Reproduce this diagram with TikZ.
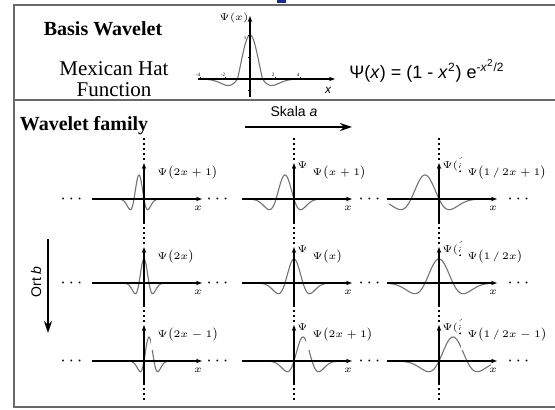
\documentclass[tikz,border=0pt]{standalone}
\usepackage{fontspec}
\setmainfont{Liberation Serif}
\newfontfamily\arialfont{Liberation Sans}
\usepackage{amsmath}
\usetikzlibrary{arrows.meta}

\definecolor{framegray}{RGB}{105,105,105}
\definecolor{titleblue}{RGB}{25,45,130}

\tikzset{
  axis/.style={line width=0.55pt,-{Stealth[length=3pt,width=2.2pt]}},
  wave/.style={black!55,line width=0.55pt,smooth},
  vdots/.style={line width=1pt,dash pattern=on 1pt off 1.5pt},
  plotlabel/.style={fill=white,inner ysep=4pt,inner xsep=3pt,anchor=west,font=\fontsize{5.5}{6.5}\selectfont},
  ylab/.style={inner sep=0pt,anchor=west,font=\fontsize{3.5}{4}\selectfont},
  xlab/.style={inner sep=0pt,font=\fontsize{4.5}{5}\selectfont},
  ticklab/.style={inner sep=0pt,font=\fontsize{2.5}{3}\selectfont},
  ellip/.style={inner sep=0pt,font=\fontsize{9}{10}\selectfont},
  bigarrow/.style={line width=0.8pt,-{Stealth[length=6pt,width=4pt]}},
}

\begin{document}
\begin{tikzpicture}[x=0.5pt,y=0.5pt,
  declare function={mh(\t)=(1-\t*\t)*exp(-\t*\t/2);}]
\useasboundingbox (0,0) rectangle (555,410);

% frame
\draw[framegray,line width=0.8pt] (14,3) rectangle (560,405);
\draw[framegray,line width=0.8pt] (14,310) -- (560,310);
\fill[titleblue] (277,407) rectangle (286,411);

% basis wavelet
\node[font=\bfseries\fontsize{10}{12}\selectfont] (basis) at (103,381) {Basis Wavelet};
\node[align=center,font=\fontsize{10.5}{10.5}\selectfont] (mexhat) at (114,331) {Mexican Hat\\Function};

\draw[wave] plot[domain=-4:4,samples=121] ({250+12.5*\x},{331+44*mh(\x)*((abs(\x)<1)?1:0.33)});
\draw[axis] (198,331) -- (335,331);
\draw[axis] (250,313) -- (250,394);
\foreach \t in {-4,-2,2,4}{
  \draw[line width=0.3pt] (250+12.5*\t,331) -- ++(0,2);
  \node[ticklab] at (248+12.5*\t,335) {\t};
}
\draw[line width=0.3pt] (250,375) -- ++(-2,0);
\draw[line width=0.3pt] (250,353) -- ++(-2,0);
\draw[line width=0.3pt] (250,320) -- ++(-2,0);
\node[ticklab] (one) at (245,372) {1};
\node[xlab,font=\fontsize{5}{6}\selectfont] (psix) at (234,392) {$\Psi(x)$};
\node[xlab,font=\arialfont\itshape\fontsize{6}{7}\selectfont] (xtop) at (328,320) {x};

\node[font=\arialfont\fontsize{9}{10}\selectfont] (formula) at (427,339)
  {Ψ(\textit{x}) = (1 - \textit{x}\textsuperscript{2}) e\textsuperscript{-\textit{x}\textsuperscript{2}/2}};

% wavelet family
\node[font=\bfseries\fontsize{10}{12}\selectfont] (family) at (84,284) {Wavelet family};

\node[font=\arialfont\fontsize{7}{8}\selectfont] (skala) at (294,298) {Skala \textit{a}};
\coordinate (skalaA) at (245,283);
\coordinate (skalaB) at (352,283);
\draw[bigarrow] (skalaA) -- (skalaB);

\node[rotate=90,font=\arialfont\fontsize{7}{8}\selectfont] (ort) at (36,128) {Ort \textit{b}};
\coordinate (ortA) at (48,171);
\coordinate (ortB) at (48,77);
\draw[bigarrow] (ortA) -- (ortB);

\foreach \cx/\ry/\s/\b/\lx/\ty/\lab [count=\i] in {
  144/211/5/1/13/{}/{2x+1}, 294/211/9/1/18/{$\Psi$}/{x+1}, 439/211/14/1/28/{$\Psi(^1_2$}/{1\,/\,2x+1},
  144/127/5/0/13/{}/{2x}, 294/127/9/0/18/{$\Psi$}/{x}, 439/127/14/0/28/{$\Psi(^1_2$}/{1\,/\,2x},
  144/49/5/-1/13/{}/{2x-1}, 294/49/9/-1/18/{$\Psi$}/{2x+1}, 439/49/14/-1/28/{$\Psi(^1_2$}/{1\,/\,2x-1}}{
  \draw[wave] plot[domain=-50:52,samples=161] ({\cx+\x},{\ry+24*mh(\x/\s+\b)});
  \draw[axis] (\cx-52,\ry) -- (\cx+58,\ry);
  \draw[axis] (\cx,\ry-24) -- (\cx,\ry+36);
  \draw[vdots] (\cx,\ry+39) -- (\cx,\ry+62);
  \node[ylab] (ty\i) at (\cx+3,\ry+34) {\ty};
  \node[plotlabel] (lab\i) at (\cx+\lx-6,\ry+26) {$\Psi\bigl(\lab\bigr)$};
  \node[xlab] (x\i) at (\cx+54,\ry-9) {$x$};
}
\foreach \cx in {144,294,439}
  \draw[vdots] (\cx,27) -- (\cx,10);
\foreach \ry in {211,127,49}
  \foreach \dx in {73,219,371,520}
    \node[ellip] (dots\dx\ry) at (\dx,\ry) {$\cdots$};

\end{tikzpicture}
\end{document}
